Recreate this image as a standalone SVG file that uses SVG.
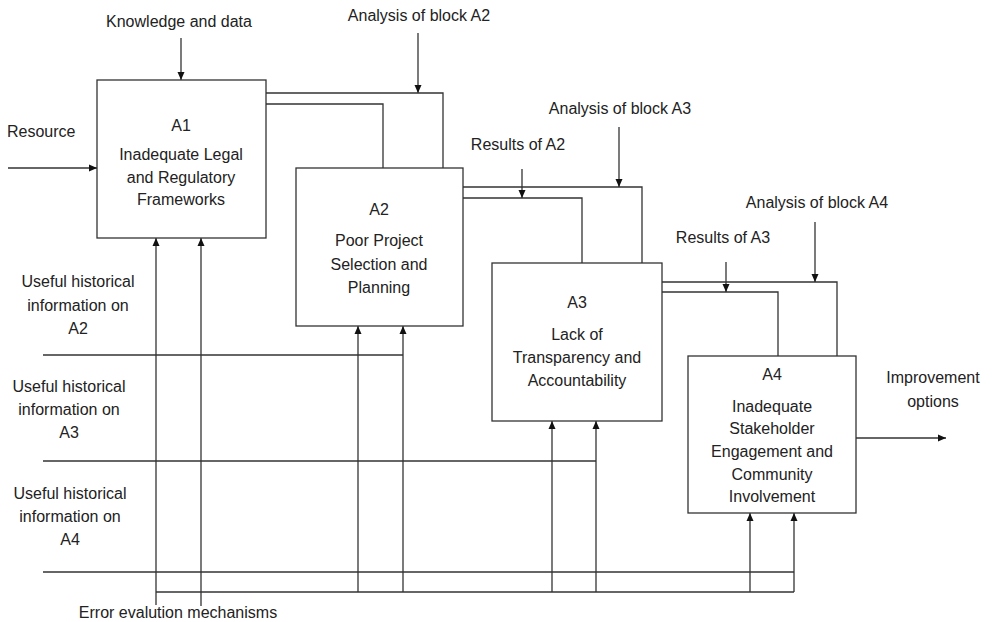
<svg xmlns="http://www.w3.org/2000/svg" width="993" height="622" viewBox="0 0 993 622">
<style>
text{font-family:"Liberation Sans",Arial,sans-serif;font-size:16px;fill:#222;text-anchor:middle}
.l{text-anchor:start}
.box{fill:#fff;stroke:#333;stroke-width:1.3}
.c{fill:none;stroke:#333;stroke-width:1.3}
</style>
<defs>
<marker id="ah" markerUnits="userSpaceOnUse" markerWidth="8" markerHeight="10" viewBox="0 0 8 10" refX="8" refY="5" orient="auto">
<path d="M0,1.5 L8,5 L0,8.5 Z" fill="#111"/>
</marker>
</defs>
<rect width="993" height="622" fill="#fff"/>
<g id="connectors">
<path class="c" d="M181,38 V80" marker-end="url(#ah)"/>
<path class="c" d="M418,33 V93" marker-end="url(#ah)"/>
<path class="c" d="M266,93 H443 V168"/>
<path class="c" d="M266,104 H383 V168"/>
<path class="c" d="M8,168 H97" marker-end="url(#ah)"/>
<path class="c" d="M463,187 H642 V263"/>
<path class="c" d="M463,198 H582 V263"/>
<path class="c" d="M522,169 V198" marker-end="url(#ah)"/>
<path class="c" d="M619,127 V187" marker-end="url(#ah)"/>
<path class="c" d="M662,282 H837 V356"/>
<path class="c" d="M662,292 H778 V356"/>
<path class="c" d="M726,262 V292" marker-end="url(#ah)"/>
<path class="c" d="M815,222 V282" marker-end="url(#ah)"/>
<path class="c" d="M856,438 H946" marker-end="url(#ah)"/>
<path class="c" d="M156,605 V238" marker-end="url(#ah)"/>
<path class="c" d="M201,606 V238" marker-end="url(#ah)"/>
<path class="c" d="M43,355 H403"/>
<path class="c" d="M43,461 H596"/>
<path class="c" d="M43,572 H794"/>
<path class="c" d="M156,592 H794"/>
<path class="c" d="M358,592 V326" marker-end="url(#ah)"/>
<path class="c" d="M403,592 V326" marker-end="url(#ah)"/>
<path class="c" d="M552,592 V421" marker-end="url(#ah)"/>
<path class="c" d="M596,592 V421" marker-end="url(#ah)"/>
<path class="c" d="M750,592 V513" marker-end="url(#ah)"/>
<path class="c" d="M794,592 V513" marker-end="url(#ah)"/>
</g>
<g id="A1">
<rect class="box" x="97" y="80" width="169" height="158"/>
<text x="181" y="131">A1</text>
<text x="181" y="160">Inadequate Legal</text>
<text x="181" y="183">and Regulatory</text>
<text x="181" y="205">Frameworks</text>
</g>
<g id="A2">
<rect class="box" x="296" y="168" width="167" height="158"/>
<text x="379" y="215">A2</text>
<text x="379" y="246">Poor Project</text>
<text x="379" y="270">Selection and</text>
<text x="379" y="293">Planning</text>
</g>
<g id="A3">
<rect class="box" x="492" y="263" width="170" height="158"/>
<text x="577" y="308">A3</text>
<text x="577" y="340">Lack of</text>
<text x="577" y="363">Transparency and</text>
<text x="577" y="386">Accountability</text>
</g>
<g id="A4">
<rect class="box" x="688" y="356" width="168" height="157"/>
<text x="772" y="380">A4</text>
<text x="772" y="412">Inadequate</text>
<text x="772" y="434">Stakeholder</text>
<text x="772" y="457">Engagement and</text>
<text x="772" y="480">Community</text>
<text x="772" y="502">Involvement</text>
</g>
<g id="labels">
<text x="179" y="27">Knowledge and data</text>
<text x="419" y="21">Analysis of block A2</text>
<text class="l" x="7" y="137">Resource</text>
<text x="518" y="150">Results of A2</text>
<text x="620" y="114">Analysis of block A3</text>
<text x="723" y="243">Results of A3</text>
<text x="817" y="208">Analysis of block A4</text>
<text x="933" y="383">Improvement</text>
<text x="933" y="407">options</text>
<text x="78" y="287">Useful historical</text>
<text x="78" y="311">information on</text>
<text x="78" y="334">A2</text>
<text x="69" y="392">Useful historical</text>
<text x="69" y="415">information on</text>
<text x="69" y="438">A3</text>
<text x="70" y="499">Useful historical</text>
<text x="70" y="522">information on</text>
<text x="70" y="545">A4</text>
<text x="178" y="618">Error evalution mechanisms</text>
</g>
</svg>
